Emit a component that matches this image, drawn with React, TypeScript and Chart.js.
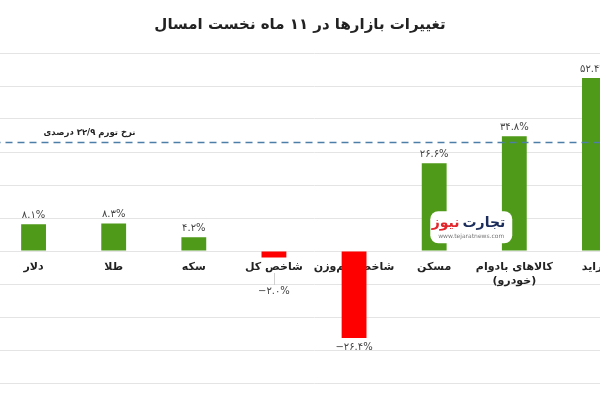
import React, { useEffect, useRef } from "react";
import { Chart, registerables } from "chart.js";

Chart.register(...registerables);

const titleText = "تغییرات بازارها در ۱۱ ماه نخست امسال";
const categories: (string | string[])[] = [
  "دلار",
  "طلا",
  "سکه",
  "شاخص کل",
  "شاخص هم‌وزن",
  "مسکن",
  ["کالاهای بادوام", "(خودرو)"],
  "پراید",
];
const changes = [8.1, 8.3, 4.2, -2.0, -26.4, 26.6, 34.8, 52.4];
const inflationRate = 32.9;
const inflationLabel = "نرخ تورم ۳۲/۹ درصدی";
const yMin = -40;
const yMax = 60;
const yStep = 10;
const logoBrand = ["تجارت", "نیوز"];
const logoUrl = "www.tejaratnews.com";

const FONT = '"DejaVu Sans", sans-serif';
const GREEN = "#4f9a18";
const RED = "#ff0000";

const toFa = (s: string) => s.replace(/[0-9]/g, (d) => "۰۱۲۳۴۵۶۷۸۹"[Number(d)]);
const fmt = (v: number) => (v < 0 ? "−" : "") + toFa(Math.abs(v).toFixed(1)) + "%";

const overlayPlugin = {
  id: "overlay",
  afterDraw(chart: any) {
    const { ctx } = chart;
    ctx.save();
    ctx.font = `bold 15px ${FONT}`;
    ctx.fillStyle = "#222";
    ctx.textAlign = "center";
    ctx.textBaseline = "middle";
    ctx.fillText(titleText, chart.width / 2, 25);
    ctx.restore();
  },
  afterDatasetsDraw(chart: any) {
    const { ctx, chartArea, scales } = chart;
    const xs = scales.x;
    const ys = scales.y;
    const zeroY = ys.getPixelForValue(0);
    const meta = chart.getDatasetMeta(0);
    ctx.save();

    // value labels
    ctx.font = `10px ${FONT}`;
    ctx.fillStyle = "#444";
    ctx.textAlign = "center";
    ctx.textBaseline = "middle";
    meta.data.forEach((bar: any, i: number) => {
      const v = changes[i];
      let y: number;
      if (v >= 0) {
        y = bar.y - 9;
      } else {
        y = bar.y + 9;
        if (bar.y - zeroY < 30) {
          y = zeroY + 40;
          ctx.save();
          ctx.strokeStyle = "#d0d0d0";
          ctx.lineWidth = 1;
          ctx.beginPath();
          ctx.moveTo(Math.round(bar.x) + 0.5, zeroY + 22);
          ctx.lineTo(Math.round(bar.x) + 0.5, y - 6);
          ctx.stroke();
          ctx.restore();
        }
      }
      ctx.fillText(fmt(v), bar.x, y);
    });

    // inflation line
    const iy = ys.getPixelForValue(inflationRate);
    ctx.strokeStyle = "#4d7ea8";
    ctx.lineWidth = 1.6;
    ctx.setLineDash([7, 5]);
    ctx.beginPath();
    ctx.moveTo(chartArea.left, iy);
    ctx.lineTo(chartArea.right, iy);
    ctx.stroke();
    ctx.setLineDash([]);
    ctx.font = `bold 8.5px ${FONT}`;
    ctx.fillStyle = "#222";
    ctx.textAlign = "center";
    ctx.fillText(inflationLabel, xs.getPixelForValue(0) + 56, iy - 10);

    // watermark logo
    const cx = (xs.getPixelForValue(5) + xs.getPixelForValue(6)) / 2 - 3;
    const cy = ys.getPixelForValue(7.2);
    const w = 82;
    const h = 32;
    ctx.fillStyle = "#ffffff";
    ctx.beginPath();
    (ctx as any).roundRect(cx - w / 2, cy - h / 2, w, h, 8);
    ctx.fill();
    ctx.textBaseline = "middle";
    ctx.font = `bold 14px ${FONT}`;
    ctx.textAlign = "right";
    const right = cx + 34;
    ctx.fillStyle = "#1c2d5c";
    ctx.fillText(logoBrand[0], right, cy - 4);
    const w1 = ctx.measureText(logoBrand[0]).width;
    ctx.fillStyle = "#e3262b";
    ctx.fillText(logoBrand[1], right - w1 - 3, cy - 4);
    ctx.font = `6px ${FONT}`;
    ctx.fillStyle = "#777";
    ctx.textAlign = "center";
    ctx.fillText(logoUrl, cx, cy + 9);

    ctx.restore();
  },
};

export default function App() {
  const ref = useRef<HTMLCanvasElement | null>(null);
  useEffect(() => {
    if (!ref.current) return;
    const chart = new Chart(ref.current, {
      type: "bar",
      data: {
        labels: categories as any,
        datasets: [
          {
            data: changes,
            backgroundColor: changes.map((v) => (v >= 0 ? GREEN : RED)),
            categoryPercentage: 1,
            barPercentage: 0.31,
          },
        ],
      },
      options: {
        animation: false,
        responsive: false,
        maintainAspectRatio: false,
        layout: { padding: { left: 33.5, right: 5.5, top: 53, bottom: 17 } },
        plugins: {
          legend: { display: false },
          tooltip: { enabled: false },
          title: { display: false },
        },
        scales: {
          x: {
            position: { y: 0 } as any,
            grid: { display: false },
            border: { display: false },
            ticks: {
              color: "#222",
              font: { family: FONT, size: 11, weight: "bold" },
              padding: 2,
              maxRotation: 0,
              autoSkip: false,
            },
          },
          y: {
            min: yMin,
            max: yMax,
            ticks: { stepSize: yStep, display: false },
            grid: { color: "#e4e4e4", drawTicks: false },
            border: { display: false },
            afterFit(scale: any) {
              scale.width = 0;
            },
          },
        },
      },
      plugins: [overlayPlugin],
    });
    return () => chart.destroy();
  }, []);
  return (
    <div
      style={{
        position: "fixed",
        left: 0,
        top: 0,
        width: 600,
        height: 400,
        overflow: "hidden",
        background: "#fff",
      }}
    >
      <canvas
        ref={ref}
        width={680}
        height={400}
        style={{ position: "absolute", left: -40, top: 0, width: 680, height: 400 }}
      />
    </div>
  );
}
